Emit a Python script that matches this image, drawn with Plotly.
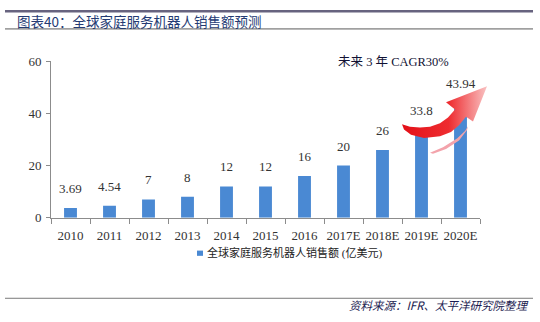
import plotly.graph_objects as go

# ---- data ----
years = ["2010", "2011", "2012", "2013", "2014", "2015", "2016",
         "2017E", "2018E", "2019E", "2020E"]
sales = [3.69, 4.54, 7, 8, 12, 12, 16, 20, 26, 33.8, 43.94]
y_ticks = [0, 20, 40, 60]
series_name = "全球家庭服务机器人销售额 (亿美元)"
title_text = "图表40：全球家庭服务机器人销售额预测"
source_text = "资料来源：IFR、太平洋研究院整理"
cagr_text = "未来 3 年 CAGR30%"

# ---- styling ----
W, H = 540, 322
BAR = "#4a89d3"
AXIS = "#8c8c8c"
SERIF = "Liberation Serif, Times New Roman, serif"
CJK = "Noto Sans CJK SC, sans-serif"
MIXED = "Liberation Serif, Noto Sans CJK SC, serif"

fig = go.Figure()

fig.add_bar(x=years, y=sales, marker_color=BAR, marker_line_width=0,
            name=series_name, showlegend=False, hoverinfo="x+y",
            xaxis="x", yaxis="y")

# value labels above each bar (category index positions)
for i, v in enumerate(sales):
    fig.add_annotation(x=i, y=v, xref="x", yref="y", text=f"{v:g}",
                       showarrow=False, yanchor="bottom", yshift=10,
                       font=dict(family=SERIF, size=13, color="#333333"))

# decorative growth arrow drawn on a pixel-space overlay (x2/y2)
arrow_x = [402, 410, 420, 430, 440, 448, 455, 446, 487, 473, 466, 459,
           451, 440, 424, 411, 404, 402]
arrow_y = [123, 125.5, 126.5, 125.5, 122, 116, 107.5, 100, 83, 120, 115,
           124, 131, 135.5, 137.5, 134, 128.5, 123]
fig.add_scatter(x=arrow_x, y=arrow_y, xaxis="x2", yaxis="y2", mode="none",
                fill="toself",
                fillgradient=dict(type="horizontal",
                                  colorscale=[[0, "#e31018"], [0.55, "#ee2c30"],
                                              [1, "#f9c2c2"]]),
                hoverinfo="skip", showlegend=False)

glint_x = [430, 443, 457, 465, 468, 467, 459, 446, 433, 430]
glint_y = [153, 147, 138, 130, 125, 129, 140, 149, 154, 153]
fig.add_scatter(x=glint_x, y=glint_y, xaxis="x2", yaxis="y2", mode="none",
                fill="toself", fillcolor="#f3a3ab",
                hoverinfo="skip", showlegend=False)

# frame lines and legend swatch
shapes = [
    dict(type="line", x0=5, x1=533, y0=4.5, y1=4.5,
         line=dict(color="#67637f", width=2.5)),
    dict(type="line", x0=5, x1=533, y0=23, y1=23,
         line=dict(color="#5a5a5a", width=1)),
    dict(type="line", x0=5, x1=533, y0=305.5, y1=305.5,
         line=dict(color="#7a7a7a", width=1)),
    dict(type="rect", x0=197, x1=203, y0=255.5, y1=261,
         fillcolor=BAR, line=dict(width=0)),
]
for s in shapes:
    s.update(xref="x2", yref="y2", layer="above")
    fig.add_shape(**s)

texts = [
    dict(x=15, y=14.5, text=title_text, xanchor="left",
         font=dict(family=CJK, size=13.5, color="#243a73")),
    dict(x=393, y=58, text=cagr_text, xanchor="center",
         font=dict(family=MIXED, size=12.5, color="#111133")),
    dict(x=205, y=258, text=series_name, xanchor="left",
         font=dict(family=MIXED, size=11, color="#222222")),
    dict(x=531, y=313, text=f"<i>{source_text}</i>", xanchor="right",
         font=dict(family=CJK, size=11.5, color="#1a1a50")),
]
for t in texts:
    fig.add_annotation(xref="x2", yref="y2", yanchor="middle",
                       showarrow=False, **t)

fig.update_layout(
    width=W, height=H,
    margin=dict(l=0, r=0, t=0, b=0),
    paper_bgcolor="white",
    plot_bgcolor="rgba(0,0,0,0)",
    bargap=0.67,
    showlegend=False,
    xaxis=dict(type="category", categoryorder="array", categoryarray=years,
               range=[-0.5, len(years) - 0.5], domain=[51 / W, 480 / W],
               anchor="y", showline=True, linecolor=AXIS, linewidth=1,
               ticks="outside", tickson="boundaries", ticklen=5,
               tickcolor=AXIS, showgrid=False, ticklabelstandoff=6,
               tickangle=0,
               tickfont=dict(family=SERIF, size=13, color="#333333")),
    yaxis=dict(domain=[1 - 221 / H, 1 - 57 / H], anchor="x", range=[0, 60],
               tickvals=y_ticks, showline=True, linecolor=AXIS, linewidth=1,
               ticks="outside", ticklen=4, tickcolor=AXIS, showgrid=False,
               zeroline=False, ticklabelstandoff=2,
               tickfont=dict(family=SERIF, size=13, color="#333333")),
    xaxis2=dict(domain=[0, 1], anchor="y2", range=[0, W], visible=False,
                fixedrange=True),
    yaxis2=dict(domain=[0, 1], anchor="x2", range=[H, 0], visible=False,
                fixedrange=True),
)

fig.write_html("out.html")
